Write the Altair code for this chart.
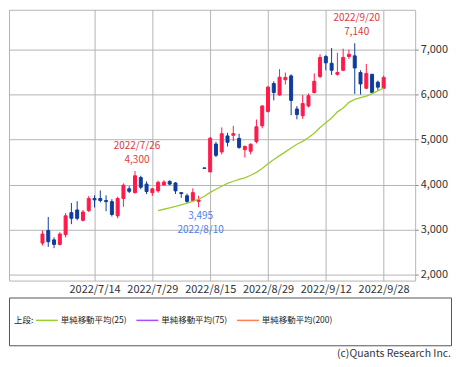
import altair as alt
import pandas as pd

# ---------------- data ----------------
dates = ["2022-07-01", "2022-07-04", "2022-07-05", "2022-07-06", "2022-07-07", "2022-07-08",
         "2022-07-11", "2022-07-12", "2022-07-13", "2022-07-14", "2022-07-15", "2022-07-19",
         "2022-07-20", "2022-07-21", "2022-07-22", "2022-07-25", "2022-07-26", "2022-07-27",
         "2022-07-28", "2022-07-29", "2022-08-01", "2022-08-02", "2022-08-03", "2022-08-04",
         "2022-08-05", "2022-08-08", "2022-08-09", "2022-08-10", "2022-08-12", "2022-08-15",
         "2022-08-16", "2022-08-17", "2022-08-18", "2022-08-19", "2022-08-22", "2022-08-23",
         "2022-08-24", "2022-08-25", "2022-08-26", "2022-08-29", "2022-08-30", "2022-08-31",
         "2022-09-01", "2022-09-02", "2022-09-05", "2022-09-06", "2022-09-07", "2022-09-08",
         "2022-09-09", "2022-09-12", "2022-09-13", "2022-09-14", "2022-09-15", "2022-09-16",
         "2022-09-20", "2022-09-21", "2022-09-22", "2022-09-26", "2022-09-27", "2022-09-28"]

opens = [2700, 2980, 2770, 2670, 2885, 3375, 3435, 3205, 3420, 3690,
         3690, 3645, 3620, 3305, 3690, 3905, 3820, 4155, 4010, 3820,
         3860, 3990, 4070, 4035, 3820, 3750, 3645, 3625, 4370, 4280,
         4900, 4725, 5080, 5095, 5025, 4775, 4740, 4955, 5305, 5625,
         6245, 5990, 6330, 6415, 5680, 5530, 5745, 6045, 6400, 6845,
         6695, 6450, 6540, 6845, 6860, 6490, 6140, 6450, 6275, 6140]
highs = [2980, 3280, 2825, 2940, 3365, 3590, 3630, 3435, 3745, 3760,
         3870, 3760, 3675, 3730, 4025, 3965, 4300, 4195, 4070, 3925,
         4085, 4095, 4095, 4055, 3820, 3800, 3915, 3750, 4370, 5060,
         4950, 5270, 5150, 5305, 5130, 4870, 4915, 5445, 5765, 6190,
         6295, 6565, 6490, 6450, 5745, 5990, 6025, 6470, 6895, 6875,
         7035, 6930, 7020, 7000, 7140, 6540, 6680, 6460, 6310, 6420]
lows = [2645, 2615, 2585, 2645, 2825, 3120, 3205, 3180, 3390, 3490,
        3605, 3405, 3290, 3250, 3505, 3810, 3800, 3895, 3790, 3750,
        3820, 3975, 3985, 3790, 3705, 3575, 3630, 3495, 4360, 4280,
        4610, 4670, 4845, 4965, 4795, 4600, 4670, 4915, 5250, 5600,
        5870, 5975, 6225, 5540, 5450, 5460, 5715, 6025, 6365, 6540,
        6435, 6420, 6520, 6790, 6015, 6000, 6120, 6025, 6095, 6120]
closes = [2900, 2730, 2670, 2900, 3305, 3250, 3250, 3390, 3690, 3660,
          3645, 3620, 3335, 3690, 3985, 3850, 4195, 3940, 3845, 3905,
          4050, 4055, 4010, 3860, 3800, 3625, 3820, 3660, 4360, 5030,
          4650, 5130, 4940, 5130, 4825, 4845, 4895, 5285, 5745, 6165,
          6045, 6385, 6380, 5870, 5555, 5800, 5975, 6295, 6825, 6705,
          6540, 6490, 6825, 6895, 6590, 6235, 6470, 6045, 6165, 6380]

# 25-day simple moving average as drawn (first 20 sessions not shown)
sma25 = [None] * 20 + [3419, 3451, 3482, 3514, 3550, 3586, 3628, 3673, 3741, 3826,
                       3896, 3963, 4027, 4073, 4116, 4148, 4207, 4271, 4356, 4461,
                       4557, 4642, 4726, 4811, 4896, 4959, 5044, 5140, 5267, 5373,
                       5479, 5616, 5701, 5828, 5892, 5934, 5966, 6019, 6082, 6146]

tick_dates = ["2022-07-14", "2022-07-29", "2022-08-15", "2022-08-29", "2022-09-12", "2022-09-28"]
y_ticks = [2000, 3000, 4000, 5000, 6000, 7000]

ann_dates = ["2022-07-26", "2022-08-10", "2022-09-20"]
ann_kinds = ["high", "low", "high"]

ma_names = ["単純移動平均(25)", "単純移動平均(75)", "単純移動平均(200)"]
ma_colors = ["#9acd32", "#a64dff", "#ff7f50"]
legend_prefix = "上段:"
copyright_text = "(c)Quants Research Inc."

# ---------------- styles ----------------
RED = "#ff1a4b"
BLUE = "#0f3c9c"
GRID = "#b4b4b4"
NUM_FONT = "Liberation Sans Narrow, Noto Sans CJK JP, sans-serif"
JP_FONT = "Noto Sans CJK JP"
W, H = 408, 272
LEG_W, LEG_H = 444, 48


def fmt_date(s):
    y, m, d = s.split("-")
    return f"{y}/{int(m)}/{int(d)}"


n = len(dates)
df = pd.DataFrame({"idx": list(range(n)), "date": dates, "open": opens, "high": highs,
                   "low": lows, "close": closes, "sma": sma25})
df["dir"] = ["up" if c >= o else "down" for o, c in zip(opens, closes)]

tick_idx = [dates.index(d) for d in tick_dates]
label_expr = "''"
for i, d in reversed(list(zip(tick_idx, tick_dates))):
    label_expr = f"datum.value == {i} ? '{fmt_date(d)}' : ({label_expr})"

ann_rows = []
for d, k in zip(ann_dates, ann_kinds):
    i = dates.index(d)
    price = highs[i] if k == "high" else lows[i]
    ann_rows.append({"idx": i, "price": price, "kind": k,
                     "dlab": fmt_date(d), "vlab": f"{price:,}"})
ann = pd.DataFrame(ann_rows)

x_enc = alt.X("idx:Q",
              scale=alt.Scale(domain=[-4.93, 63.59], nice=False, zero=False),
              axis=alt.Axis(values=tick_idx, labelExpr=label_expr, grid=True, ticks=False,
                            domain=False, title=None, labelFont=NUM_FONT, labelFontSize=11,
                            labelColor="#333333", labelPadding=3, labelAngle=0,
                            gridColor=GRID, gridWidth=1, labelOverlap=False))
y_scale = alt.Scale(domain=[1866, 7884], nice=False, zero=False)
y_axis = alt.Axis(orient="right", values=y_ticks, format=",d", grid=True, gridColor=GRID,
                  gridWidth=1, domain=False, tickSize=3, tickColor="#888888",
                  labelFont=NUM_FONT, labelFontSize=11, labelColor="#333333",
                  labelPadding=2, title=None)

color_enc = alt.Color("dir:N", scale=alt.Scale(domain=["up", "down"], range=[RED, BLUE]),
                      legend=None)

base = alt.Chart(df)
wicks = base.mark_rule(strokeWidth=1).encode(
    x=x_enc, y=alt.Y("low:Q", scale=y_scale, axis=y_axis), y2="high:Q", color=color_enc)
bodies = base.mark_bar(size=3, strokeWidth=1).encode(
    x=x_enc, y=alt.Y("open:Q", scale=y_scale, axis=y_axis), y2="close:Q",
    color=color_enc, stroke=color_enc)
sma_line = base.transform_filter("isValid(datum.sma)").mark_line(
    color=ma_colors[0], strokeWidth=1.3).encode(
    x=x_enc, y=alt.Y("sma:Q", scale=y_scale, axis=y_axis))

ann_base = alt.Chart(ann)
txt_kw = dict(font=NUM_FONT, fontSize=10, align="center", baseline="middle", dx=2)
hi_date = ann_base.transform_filter("datum.kind == 'high'").mark_text(
    color="#e0393b", dy=-25, **txt_kw).encode(
    x=x_enc, y=alt.Y("price:Q", scale=y_scale, axis=y_axis), text="dlab:N")
hi_val = ann_base.transform_filter("datum.kind == 'high'").mark_text(
    color="#e0393b", dy=-11, **txt_kw).encode(
    x=x_enc, y=alt.Y("price:Q", scale=y_scale, axis=y_axis), text="vlab:N")
lo_val = ann_base.transform_filter("datum.kind == 'low'").mark_text(
    color="#4d7ff0", dy=9, **txt_kw).encode(
    x=x_enc, y=alt.Y("price:Q", scale=y_scale, axis=y_axis), text="vlab:N")
lo_date = ann_base.transform_filter("datum.kind == 'low'").mark_text(
    color="#4d7ff0", dy=23, **txt_kw).encode(
    x=x_enc, y=alt.Y("price:Q", scale=y_scale, axis=y_axis), text="dlab:N")

main = alt.layer(wicks, bodies, sma_line, hi_date, hi_val, lo_val, lo_date).properties(
    width=W, height=H, view=alt.ViewBackground(stroke=GRID, strokeWidth=1))

# ---------------- legend panel ----------------
one = alt.Chart(pd.DataFrame({"k": [0]}))
row_y = 23
leg_layers = [one.mark_text(text=legend_prefix, align="left", baseline="middle",
                            font=JP_FONT, fontSize=8.5, color="#222222").encode(
    x=alt.value(5), y=alt.value(row_y))]
for j, (name, col) in enumerate(zip(ma_names, ma_colors)):
    x0 = 27 + j * 101
    leg_layers.append(one.mark_rule(color=col, strokeWidth=1.5).encode(
        x=alt.value(x0), x2=alt.value(x0 + 22), y=alt.value(row_y)))
    leg_layers.append(one.mark_text(text=name, align="left", baseline="middle",
                                    font=JP_FONT, fontSize=8.5, color="#222222").encode(
        x=alt.value(x0 + 25), y=alt.value(row_y)))
leg_layers.append(one.mark_text(text=copyright_text, align="right", baseline="middle",
                                font=NUM_FONT, fontSize=10.5, color="#333333").encode(
    x=alt.value(LEG_W), y=alt.value(LEG_H + 9)))

legend_panel = alt.layer(*leg_layers).properties(
    width=LEG_W, height=LEG_H, view=alt.ViewBackground(stroke="#555555", strokeWidth=1))

chart = alt.vconcat(main, legend_panel, spacing=1).properties(
    padding={"left": 0, "top": 0, "right": 0, "bottom": 0}
).configure(background="white")

chart.save("out.html", embed_options={"renderer": "svg", "actions": False})
